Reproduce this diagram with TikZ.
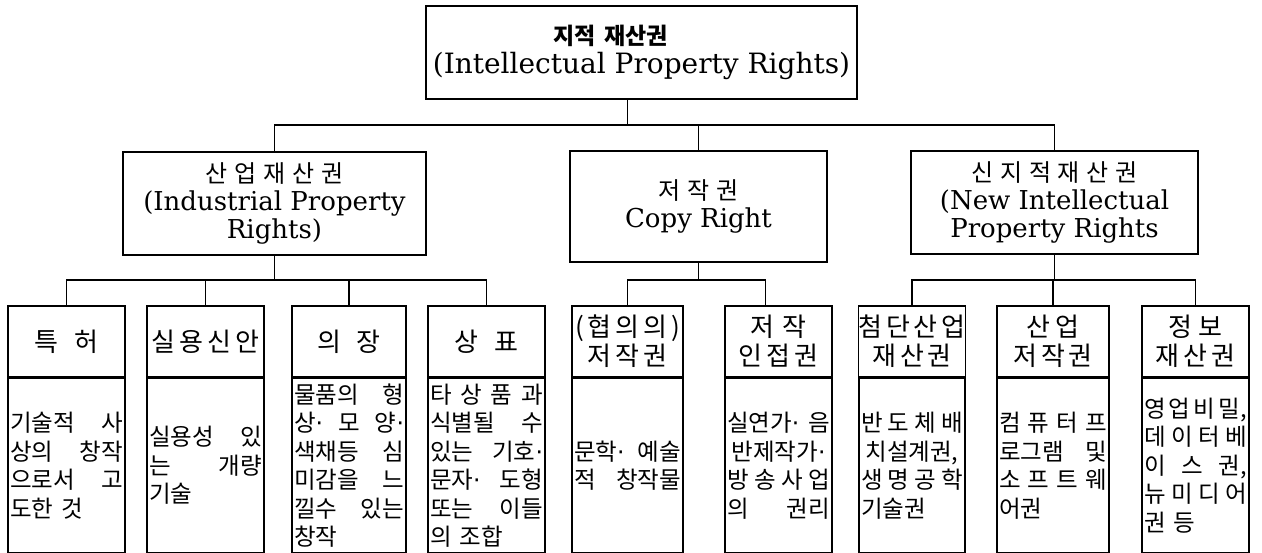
\documentclass[tikz,border=0pt]{standalone}
\usepackage{fontspec}
\setmainfont{DejaVu Serif}
\newfontfamily\kr{Noto Sans CJK KR}
\newfontfamily\krs[LetterSpace=15]{Noto Sans CJK KR}
\newfontfamily\krm[LetterSpace=28]{Noto Sans CJK KR}
\newfontfamily\dotf{DejaVu Sans}
\newcommand{\md}{{\dotf ·}}
\newcommand{\jl}[1]{\makebox[\hsize]{#1}}
\setlength{\parindent}{0pt}
\begin{document}
\begin{tikzpicture}[x=1pt,y=-1pt,line width=1.5pt,
  topbox/.style={draw,minimum width=431,minimum height=93,inner sep=0,align=center,font=\fontsize{28}{29}\selectfont},
  midbox/.style={draw,inner sep=0,align=center,font=\fontsize{26}{28}\selectfont},
  midkr/.style={font=\krm\fontsize{24}{28}\selectfont},
  headbox/.style={draw,minimum width=#1,minimum height=71,inner sep=0,align=center,font=\krs\fontsize{26}{29}\selectfont},
  bodybox/.style={draw,text width=#1pt,minimum height=174,inner sep=2,align=left,anchor=north,font=\kr\fontsize{23.5}{28.5}\selectfont}]
\useasboundingbox (0,0) rectangle (1262,553);

% top
\node[topbox] (top) at (641.5,52.5) {{\kr\bfseries\fontsize{23}{28}\selectfont 지적\hspace{0.4em}재산권\hspace*{62pt}}\\(Intellectual Property Rights)};

% middle row
\node[midbox,minimum width=303,minimum height=103] (ind) at (274.5,203.5) {{\krm\fontsize{24}{28}\selectfont 산업재산권}\\(Industrial Property\\Rights)};
\node[midbox,minimum width=257,minimum height=111] (copy) at (698.5,206.5) {{\krm\fontsize{24}{28}\selectfont 저작권}\\Copy Right};
\node[midbox,minimum width=287,minimum height=103] (new) at (1054.5,202.5) {{\krm\fontsize{24}{28}\selectfont 신지적재산권}\\(New Intellectual\\Property Rights};

% bottom headers
\node[headbox=117] (h1) at (66.5,341.5) {특\hspace{0.6em}허};
\node[headbox=117] (h2) at (205.5,341.5) {실용신안};
\node[headbox=114] (h3) at (349,341.5) {의\hspace{0.6em}장};
\node[headbox=117] (h4) at (486.5,341.5) {상\hspace{0.6em}표};
\node[headbox=111] (h5) at (627.5,341.5) {(협의의)\\저작권};
\node[headbox=107] (h6) at (778.5,341.5) {저\hspace{0.3em}작\\인접권};
\node[headbox=106] (h7) at (912,341.5) {첨단산업\\재산권};
\node[headbox=112] (h8) at (1053,341.5) {산\hspace{0.2em}업\\저작권};
\node[headbox=107] (h9) at (1195.5,341.5) {정\hspace{0.2em}보\\재산권};

% bottom bodies
\node[bodybox=113] (b1) at (h1.south) {\jl{기술적\hfill 사}\\\jl{상의\hfill 창작}\\\jl{으로서\hfill 고}\\도한 것};
\node[bodybox=113] (b2) at (h2.south) {\jl{실용성\hfill 있}\\\jl{는\hfill 개량}\\기술};
\node[bodybox=110] (b3) at (h3.south) {\jl{물품의\hfill 형}\\\jl{상\md\hfill 모\hfill 양\md}\\\jl{색채등\hfill 심}\\\jl{미감을\hfill 느}\\\jl{낄수\hfill 있는}\\창작};
\node[bodybox=113] (b4) at (h4.south) {\jl{타\hfill 상\hfill 품\hfill 과}\\\jl{식별될\hfill 수}\\\jl{있는\hfill 기호\md}\\\jl{문자\md\hfill 도형}\\\jl{또는\hfill 이들}\\의 조합};
\node[bodybox=107] (b5) at (h5.south) {\jl{문학\md\hfill 예술}\\\jl{적\hfill 창작물}};
\node[bodybox=103] (b6) at (h6.south) {\jl{실연가\md\hfill 음}\\\jl{반제작가\md}\\\jl{방\hfill 송\hfill 사\hfill 업}\\\jl{의\hfill 권리}};
\node[bodybox=102] (b7) at (h7.south) {\jl{반\hfill 도\hfill 체\hfill 배}\\\jl{치설계권,}\\\jl{생\hfill 명\hfill 공\hfill 학}\\기술권};
\node[bodybox=108] (b8) at (h8.south) {\jl{컴\hfill 퓨\hfill 터\hfill 프}\\\jl{로그램\hfill 및}\\\jl{소\hfill 프\hfill 트\hfill 웨}\\어권};
\node[bodybox=103] (b9) at (h9.south) {\jl{영\hfill 업\hfill 비\hfill 밀,}\\\jl{데\hfill 이\hfill 터\hfill 베}\\\jl{이\hfill 스\hfill 권,}\\\jl{뉴\hfill 미\hfill 디\hfill 어}\\권 등};

% connectors
\coordinate (bar1) at (627,125);
\coordinate (bar2) at (0,280);
\coordinate (t0) at ([xshift=-14pt]top.south);
\coordinate (c6) at ([xshift=-13pt]h6.north);
\draw (t0) -- (t0 |- bar1);
\draw (ind.north) -- (ind.north |- bar1) -- (new.north |- bar1) -- (new.north);
\draw (copy.north) -- (copy.north |- bar1);

\draw (ind.south) -- (ind.south |- bar2);
\draw (h1.north) -- (h1.north |- bar2) -- (h4.north |- bar2) -- (h4.north);
\draw (h2.north) -- (h2.north |- bar2);
\draw (h3.north) -- (h3.north |- bar2);

\draw (copy.south) -- (copy.south |- bar2);
\draw (h5.north) -- (h5.north |- bar2) -- (c6 |- bar2) -- (c6);

\draw (new.south) -- (new.south |- bar2);
\draw (h7.north) -- (h7.north |- bar2) -- (h9.north |- bar2) -- (h9.north);
\draw (h8.north) -- (h8.north |- bar2);
\end{tikzpicture}
\end{document}
